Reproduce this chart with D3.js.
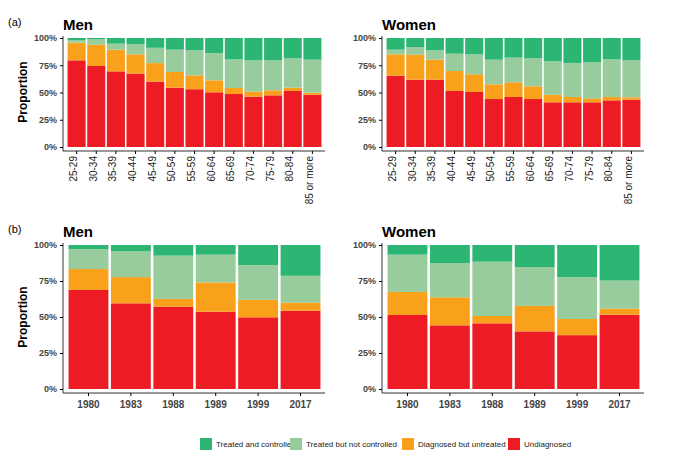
<!DOCTYPE html>
<html><head><meta charset="utf-8">
<script src="https://cdn.jsdelivr.net/npm/d3@7"></script>
<style>body{margin:0;background:#fff;font-family:"Liberation Sans",Arial,sans-serif}</style>
</head><body><svg id="c" width="680" height="455"></svg>
<script>
const ages = ['25-29','30-34','35-39','40-44','45-49','50-54','55-59','60-64','65-69','70-74','75-79','80-84','85 or more'];
const years = ['1980','1983','1988','1989','1999','2017'];
const series = ['Undiagnosed','Diagnosed but untreated','Treated but not controlled','Treated and controlled'];
const colors = ['#ED1C24','#F9A11B','#99CC9C','#2DB573'];
// cumulative tops (%) of undiagnosed, +untreated, +not controlled
const menAgeRed = [79.5,74.3,69.4,67.3,60,54.4,53,50.2,48.6,46.2,47.4,51.4,48];
const menAgeOrange = [95.7,93.9,89.3,85,77,68.8,65.7,61.2,54.1,50.8,52,54.4,49.8];
const menAgeLight = [97.9,99,94.8,94.2,91,89.3,88.7,86.2,80.4,79.5,79.5,81.3,80.1];
const womenAgeRed = [65.4,61.8,61.8,51.4,50.5,44,45.9,44,41,41,41,42.8,43.4];
const womenAgeOrange = [85,84.7,80.1,69.7,66.7,57.5,59.3,55.7,48,45.9,44.6,45.9,45.6];
const womenAgeLight = [89.3,91.7,88.7,85.6,85,80.1,82,81.3,78.6,77.1,77.7,80.4,79.5];
const menYrRed = [68.8,59.5,57.2,53.7,49.8,54.4];
const menYrOrange = [83.3,77.7,62.6,74,61.9,60];
const menYrLight = [97.2,95.6,92.6,93.3,86,78.6];
const womenYrRed = [51.4,44.2,45.6,40,37.4,51.6];
const womenYrOrange = [67.4,63.7,50.7,57.7,48.6,55.8];
const womenYrLight = [93.3,87.4,88.4,84.7,77.7,75.3];

const svg = d3.select('#c');
const ticks = [0,25,50,75,100];

function panel(cats, red, orange, light, x0, x1, y0, y1, title, rotate, pad){
  const x = d3.scaleBand().domain(cats).range([x0+3, x1-2]).padding(pad);
  const y = d3.scaleLinear().domain([0,100]).range([y0, y1]);
  const g = svg.append('g');
  cats.forEach((c,i)=>{
    const tops = [red[i], orange[i], light[i], 100];
    let prev = 0;
    tops.forEach((t,k)=>{
      g.append('rect').attr('x', x(c)).attr('width', x.bandwidth())
        .attr('y', y(t)).attr('height', y(prev)-y(t)).attr('fill', colors[k]);
      prev = t;
    });
  });
  const ya = g.append('g').attr('transform',`translate(${x0},0)`)
    .call(d3.axisLeft(y).tickValues(ticks).tickFormat(d=>d+'%').tickSize(3));
  ya.select('.domain').attr('d', `M0,${y0+4}V${y1-2}`).attr('stroke','#333');
  const xa = g.append('g').attr('transform',`translate(0,${y0+4})`)
    .call(d3.axisBottom(x).tickSize(3));
  xa.select('.domain').attr('d', `M${x0},0H${x1}`).attr('stroke','#333');
  g.selectAll('.tick text').attr('fill','#444').style('font-weight','bold').style('font-size','9px');
  if(rotate){
    xa.selectAll('.tick text').attr('transform','rotate(-90)').attr('text-anchor','end')
      .attr('x',-5).attr('y',-3).attr('dy','0.35em').style('font-weight','normal').style('font-size','10px').attr('fill','#222');
  } else {
    xa.selectAll('.tick text').style('font-size','10px').attr('dy','0.9em');
  }
  g.append('text').attr('x', x0).attr('y', y1-8).text(title)
    .style('font-weight','bold').style('font-size','15px');
}

panel(ages, menAgeRed, menAgeOrange, menAgeLight, 63, 325, 147, 38, 'Men', true, 0.08);
panel(ages, womenAgeRed, womenAgeOrange, womenAgeLight, 382, 644, 147, 38, 'Women', true, 0.08);
panel(years, menYrRed, menYrOrange, menYrLight, 63, 325, 389, 245, 'Men', false, 0.06);
panel(years, womenYrRed, womenYrOrange, womenYrLight, 382, 644, 389, 245, 'Women', false, 0.06);

svg.append('text').attr('x',8).attr('y',26).text('(a)').style('font-size','11px');
svg.append('text').attr('x',8).attr('y',233).text('(b)').style('font-size','11px');
[[92,38,147],[92,245,389]].forEach(a=>{
  svg.append('text').attr('transform',`translate(27,${a[1]+a[2]>400?317:92}) rotate(-90)`)
    .attr('text-anchor','middle').text('Proportion').style('font-size','12px').style('font-weight','bold');
});

const legX = [200,290,402,508];
const legOrder = [3,2,1,0];
legOrder.forEach((k,i)=>{
  svg.append('rect').attr('x',legX[i]).attr('y',438).attr('width',12).attr('height',12).attr('fill',colors[k]);
  svg.append('text').attr('x',legX[i]+16).attr('y',447).text(series[k]).style('font-size','8px').attr('fill','#222');
});
</script></body></html>
